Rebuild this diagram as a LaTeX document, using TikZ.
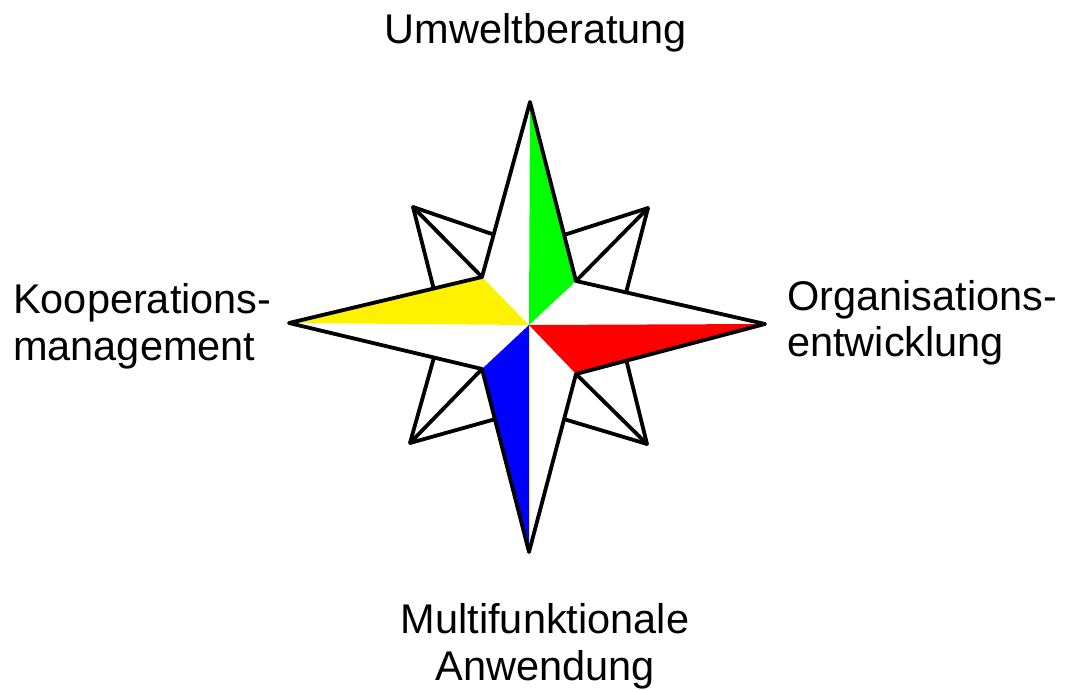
\documentclass[tikz,border=0pt]{standalone}
\usepackage{fontspec}
\setmainfont{Liberation Sans}
\usetikzlibrary{calc}
\begin{document}
\begin{tikzpicture}[x=1pt,y=-1pt,
  outline/.style={draw=black,line width=3.8pt,line join=round},
  lbl/.style={inner sep=0pt,font=\fontsize{41.5}{46.5}\selectfont}]
\useasboundingbox (0,0) rectangle (1071,690);
% centre and main points
\coordinate (C) at (529,325);
\coordinate (N) at (530,102);
\coordinate (S) at (529,552);
\coordinate (W) at (289,323);
\coordinate (E) at (765,324);
\coordinate (iNE) at (576,281);
\coordinate (iNW) at (482,277);
\coordinate (iSW) at (482,369);
\coordinate (iSE) at (576,374);
% diagonal tips
\coordinate (dNW) at (413,207);
\coordinate (dNE) at (648,208);
\coordinate (dSW) at (410,443);
\coordinate (dSE) at (647,444);
% points where diagonal arms meet main star edges
\coordinate (aNW) at (492,234); \coordinate (bNW) at (433,286);
\coordinate (aNE) at (567,234); \coordinate (bNE) at (627,289);
\coordinate (aSW) at (492,420); \coordinate (bSW) at (433,361);
\coordinate (aSE) at (567,420); \coordinate (bSE) at (627,363);
% diagonal arms
\foreach \d in {NW,NE,SW,SE}{
  \filldraw[outline,fill=white] (d\d) -- ($(d\d)!1.15!(a\d)$) -- (i\d) -- ($(d\d)!1.15!(b\d)$) -- cycle;
  \draw[outline] (d\d) -- (i\d);
}
% main star body
\fill[white] (N) -- (iNE) -- (E) -- (iSE) -- (S) -- (iSW) -- (W) -- (iNW) -- cycle;
\fill[green] (C) -- (N) -- (iNE) -- cycle;
\fill[red] (C) -- (E) -- (iSE) -- cycle;
\fill[blue] (C) -- (S) -- (iSW) -- cycle;
\fill[yellow] (C) -- (W) -- (iNW) -- cycle;
\draw[outline] (N) -- (iNE) -- (E) -- (iSE) -- (S) -- (iSW) -- (W) -- (iNW) -- cycle;
% labels
\node[lbl,anchor=base] (top) at (536,43.3) {Umweltberatung};
\node[lbl,anchor=base west,align=left] (left) at (13,360) {Kooperations-\\management};
\node[lbl,anchor=base west,align=left] (right) at (787,356.7) {Organisations-\\entwicklung};
\node[lbl,anchor=base,align=center] (bottom) at (545,680) {Multifunktionale\\Anwendung};
\end{tikzpicture}
\end{document}
